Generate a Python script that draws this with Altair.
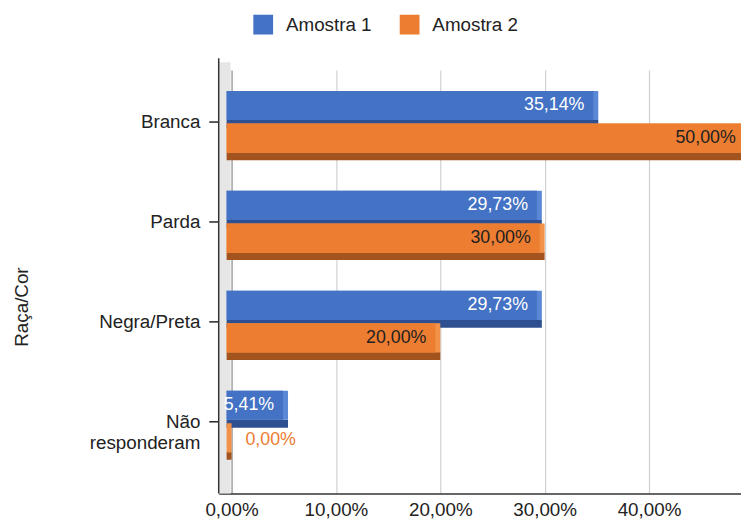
import altair as alt
import pandas as pd

# ---- data ----
categories = ["Branca", "Parda", "Negra/Preta", "Não responderam"]
series = ["Amostra 1", "Amostra 2"]
amostra_1 = [0.3514, 0.2973, 0.2973, 0.0541]
amostra_2 = [0.5000, 0.3000, 0.2000, 0.0000]
x_ticks = [0.0, 0.1, 0.2, 0.3, 0.4]

face_colors = ["#4472c4", "#ed7d31"]
bevel_colors = ["#5b88d6", "#f29248"]
strip_colors = ["#2e5090", "#a3531e"]
label_colors = ["#ffffff", "#222222"]

rows = []
for s, vals in zip(series, [amostra_1, amostra_2]):
    for c, v in zip(categories, vals):
        rows.append({"cat": c, "serie": s, "value": v,
                     "label": f"{v * 100:.2f}".replace(".", ",") + "%"})
df = pd.DataFrame(rows)

# ---- layout ----
W, H = 528, 428
PX = 1055.0
X0 = -13 / PX
X1 = X0 + W / PX
FONT = "Liberation Sans"

xscale = alt.Scale(domain=[X0, X1], nice=False, zero=False)
yscale = alt.Scale(domain=categories, paddingInner=0, paddingOuter=0.1188, align=0.104)
face_off = alt.Scale(type="band", domain=series, range=[18.5, 81], paddingInner=0.106, paddingOuter=0)
strip_off = alt.Scale(type="band", domain=series, range=[48, 88.5], paddingInner=0.754, paddingOuter=0)

is_a1 = "datum.serie == 'Amostra 1'"

x_axis = alt.Axis(
    values=x_ticks,
    labelExpr="replace(format(datum.value, '.2%'), '.', ',')",
    ticks=False, grid=True,
    gridColor={"condition": {"test": "datum.value === 0", "value": "#888888"}, "value": "#d0d0d0"},
    gridWidth=1.2,
    domainColor="#333333", domainWidth=1.5,
    labelFontSize=19, labelColor="#222222", labelPadding=7, labelFlush=False,
    title=None,
)
y_axis = alt.Axis(
    title="Raça/Cor", domain=False, offset=-10, tickSize=20, tickColor="#222222", tickWidth=1.5,
    labelFontSize=19, labelColor="#222222", labelPadding=9,
    labelExpr="datum.label == 'Não responderam' ? ['Não', 'responderam'] : datum.label",
    labelLineHeight=21, grid=False,
    titleFontSize=19, titleFontWeight="normal", titleColor="#222222",
    titleX=-209, titleY=239, titleAngle=270, titleAlign="center", titleBaseline="middle",
)

one = pd.DataFrame({"k": [0]})


def X(field):
    return alt.X(field, scale=xscale, axis=x_axis)


def Y():
    return alt.Y("cat:N", scale=yscale, axis=y_axis, sort=categories)


wall = alt.Chart(one).mark_rect(color="#e6e6e6", x2Offset=-1).encode(
    x=alt.X(datum=X0, scale=xscale, axis=x_axis), x2=alt.datum(0),
    y=alt.value(-8), y2=alt.value(H),
)
left_line = alt.Chart(one).mark_rule(color="#333333", strokeWidth=1.5).encode(
    x=alt.value(0), y=alt.value(-12), y2=alt.value(H),
)

base = alt.Chart(df)

strip = base.mark_bar(x2Offset=-5, clip=True).encode(
    x=X("value:Q"), x2=alt.datum(0), y=Y(),
    yOffset=alt.YOffset("serie:N", scale=strip_off),
    color=alt.condition(is_a1, alt.value(strip_colors[0]), alt.value(strip_colors[1])),
)
bevel = base.mark_bar(x2Offset=-5, clip=True).encode(
    x=X("value:Q"), x2=alt.datum(0), y=Y(),
    yOffset=alt.YOffset("serie:N", scale=face_off),
    color=alt.condition(is_a1, alt.value(bevel_colors[0]), alt.value(bevel_colors[1])),
)
face = base.mark_bar(xOffset=-5, x2Offset=-5, clip=True).encode(
    x=X("value:Q"), x2=alt.datum(0), y=Y(),
    yOffset=alt.YOffset("serie:N", scale=face_off),
    color=alt.Color("serie:N", scale=alt.Scale(domain=series, range=face_colors),
                    legend=alt.Legend(orient="none", legendX=35, legendY=-56, direction="horizontal",
                                      title=None, symbolType="square", symbolSize=400,
                                      symbolStrokeWidth=0, labelFontSize=19, labelColor="#222222",
                                      labelOffset=13, columnPadding=28, padding=0)),
)
labels_in = base.transform_filter("datum.value > 0").transform_calculate(
    lx=f"min(datum.value, {X1 + 0.0083})"
).mark_text(align="right", baseline="middle", dx=-14, fontSize=18).encode(
    x=X("lx:Q"), y=Y(),
    yOffset=alt.YOffset("serie:N", scale=face_off),
    text="label:N",
    color=alt.condition(is_a1, alt.value(label_colors[0]), alt.value(label_colors[1])),
)
labels_zero = base.transform_filter("datum.value == 0").mark_text(
    align="left", baseline="middle", dx=14, dy=2, fontSize=18, color="#ed7d31"
).encode(
    x=X("value:Q"), y=Y(),
    yOffset=alt.YOffset("serie:N", scale=face_off),
    text="label:N",
)

chart = alt.layer(wall, left_line, strip, bevel, face, labels_in, labels_zero).resolve_scale(
    yOffset="independent"
).properties(
    width=W, height=H,
    padding={"left": 213, "top": 60, "right": 0, "bottom": 26},
    autosize=alt.AutoSizeParams(type="none"),
).configure(font=FONT).configure_view(stroke=None)

chart.save("out.html", embed_options={"renderer": "svg", "actions": False})
